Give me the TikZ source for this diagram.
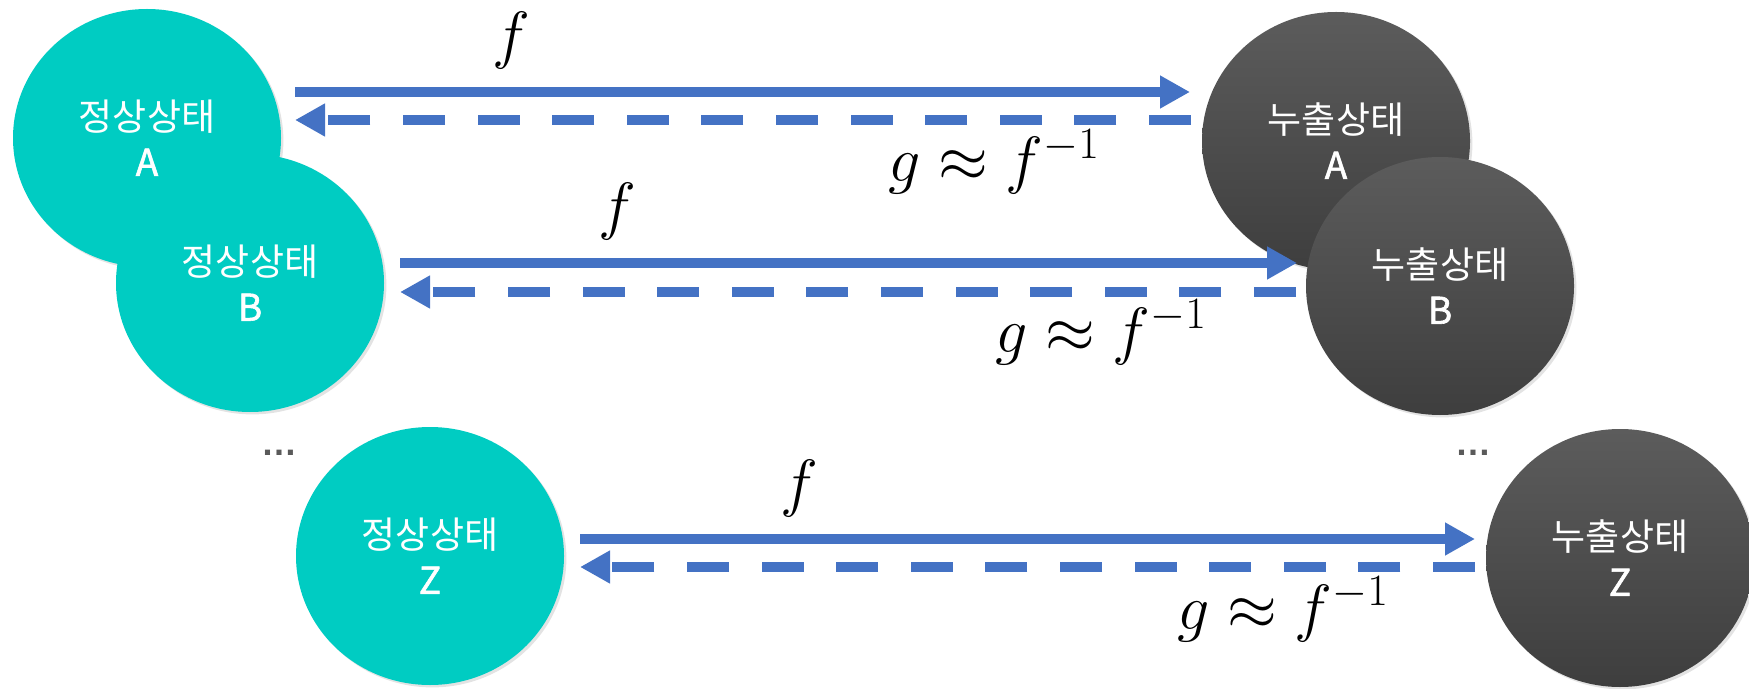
\RequirePackage{fix-cm}
\documentclass[tikz,border=0pt]{standalone}
\usepackage{fontspec}
\newfontfamily\kr{Noto Sans CJK KR}
\newfontfamily\krb[FakeBold=1.6]{Noto Sans CJK KR}
\newfontfamily\dotsf{Liberation Sans}
\usetikzlibrary{arrows.meta,shapes.geometric,shadows}
\definecolor{tealc}{RGB}{0,204,194}
\definecolor{dtop}{RGB}{92,92,92}
\definecolor{dbot}{RGB}{62,62,62}
\definecolor{arrblue}{RGB}{68,114,196}
\definecolor{dotgray}{RGB}{90,90,90}
\newcommand{\stlabel}[2]{#1\\{\krb #2}}
\begin{document}
\begin{tikzpicture}[x=0.5pt,y=-0.5pt,
  state/.style={ellipse, minimum width=134pt, minimum height=129pt, inner sep=0pt,
    align=center, text=white, font=\kr\fontsize{18.5}{22.5}\selectfont,
    drop shadow={shadow xshift=1.2pt, shadow yshift=-1.2pt, opacity=0.22}},
  normal/.style={state, fill=tealc},
  leak/.style={state, top color=dtop, bottom color=dbot},
  fwd/.style={draw=arrblue, line width=5.4pt, -{Triangle[length=15pt,width=15.5pt]}},
  bwd/.style={fwd, dash pattern=on 21pt off 16.3pt},
  lbl/.style={anchor=base, inner sep=0pt, font=\fontsize{32}{32}\selectfont},
  dotsnode/.style={inner sep=0pt, text=dotgray, font=\dotsf\bfseries\fontsize{18}{18}\selectfont},
]
\useasboundingbox (0,0) rectangle (1749,689);

% states
\node[normal] (nA) at (147,138) {\stlabel{정상상태}{A}};
\node[normal] (nB) at (250,283) {\stlabel{정상상태}{B}};
\node[normal] (nZ) at (430,556) {\stlabel{정상상태}{Z}};
\node[leak] (lA) at (1336,141) {\stlabel{누출상태}{A}};
\node[leak] (lB) at (1440,286) {\stlabel{누출상태}{B}};
\node[leak] (lZ) at (1620,558) {\stlabel{누출상태}{Z}};

% ellipsis
\node[dotsnode] (dl) at (279,453) {…};
\node[dotsnode] (dr) at (1473,453) {…};

% arrow end points
\coordinate (s1) at (295,92);   \coordinate (t1) at (1190,92);
\coordinate (u1) at (1191,120); \coordinate (v1) at (295,120);
\coordinate (s2) at (400,263);  \coordinate (t2) at (1297,263);
\coordinate (u2) at (1296,292); \coordinate (v2) at (400,292);
\coordinate (s3) at (580,539);  \coordinate (t3) at (1475,539);
\coordinate (u3) at (1475,567); \coordinate (v3) at (580,567);

\draw[fwd] (s1) -- (t1);
\draw[bwd] (u1) -- (v1);
\draw[fwd] (s2) -- (t2);
\draw[bwd] (u2) -- (v2);
\draw[fwd] (s3) -- (t3);
\draw[bwd] (u3) -- (v3);

% labels
\node[lbl] (f1) at (511,57) {\(f\)};
\node[lbl] (g1) at (994,182) {\(g \approx f^{-1}\)};
\node[lbl] (f2) at (617,228) {\(f\)};
\node[lbl] (g2) at (1101,352) {\(g \approx f^{-1}\)};
\node[lbl] (f3) at (799,504) {\(f\)};
\node[lbl] (g3) at (1283,629) {\(g \approx f^{-1}\)};
\end{tikzpicture}
\end{document}
